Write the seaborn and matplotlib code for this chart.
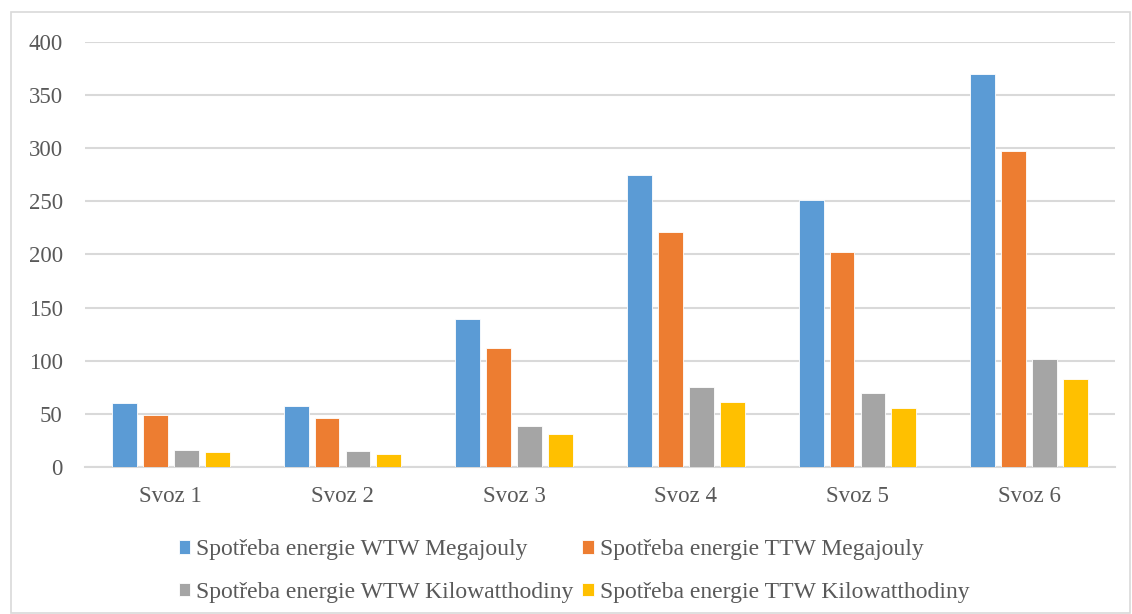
import numpy as np
import pandas as pd
import matplotlib
matplotlib.use("Agg")
import matplotlib.pyplot as plt
import seaborn as sns
from matplotlib.patches import Rectangle

categories = ["Svoz 1", "Svoz 2", "Svoz 3", "Svoz 4", "Svoz 5", "Svoz 6"]
series_names = [
    "Spotřeba energie WTW Megajouly",
    "Spotřeba energie TTW Megajouly",
    "Spotřeba energie WTW Kilowatthodiny",
    "Spotřeba energie TTW Kilowatthodiny",
]
wtw_mj = [60.6, 57.8, 139, 275, 250.7, 369.3]
ttw_mj = [48.9, 46.5, 111.7, 220.6, 201.8, 297.1]
wtw_kwh = [16.3, 15.4, 38.3, 75.3, 69.4, 101.4]
ttw_kwh = [13.8, 12.6, 30.8, 61.5, 55.2, 82.5]
yticks = [0, 50, 100, 150, 200, 250, 300, 350, 400]

colors = ["#5B9BD5", "#ED7D31", "#A5A5A5", "#FFC000"]

rows = []
for name, vals in zip(series_names, [wtw_mj, ttw_mj, wtw_kwh, ttw_kwh]):
    for c, v in zip(categories, vals):
        rows.append({"cat": c, "series": name, "value": v})
df = pd.DataFrame(rows)

sns.set_style("white")
plt.rcParams["font.family"] = ["Liberation Serif", "DejaVu Serif"]

fig = plt.figure(figsize=(11.32, 6.14), dpi=100)
ax = fig.add_axes([85 / 1132, 1 - 467 / 614, 1030 / 1132, (467 - 41.7) / 614])

sns.barplot(data=df, x="cat", y="value", hue="series", hue_order=series_names,
            order=categories, palette=colors, saturation=1, width=0.72, gap=0.2,
            edgecolor="white", linewidth=0.6, ax=ax, legend=True, zorder=3)

ax.set_ylim(0, 400)
ax.set_xlim(-0.5, 5.5)
ax.set_yticks(yticks)
ax.set_yticklabels([str(t) for t in yticks])
ax.grid(axis="y", color="#d9d9d9", linewidth=1.5, zorder=0)
ax.set_axisbelow(True)
for s in ["top", "right", "left"]:
    ax.spines[s].set_visible(False)
ax.spines["bottom"].set_color("#d9d9d9")
ax.spines["bottom"].set_linewidth(1.5)
ax.tick_params(axis="both", length=0, labelsize=16.5, labelcolor="#595959")
ax.tick_params(axis="y", pad=16)
ax.tick_params(axis="x", pad=13.5)
ax.set_xlabel("")
ax.set_ylabel("")

handles, labels = ax.get_legend_handles_labels()
ax.get_legend().remove()
order = [0, 2, 1, 3]
fig.legend([handles[i] for i in order], [labels[i] for i in order],
           loc="center", bbox_to_anchor=(574 / 1132, 1 - 571 / 614),
           ncol=2, frameon=False, fontsize=17, labelcolor="#595959",
           handlelength=0.5, handleheight=0.5, handletextpad=0.25,
           columnspacing=0.35, labelspacing=0.9, borderpad=0)

fig.patches.append(Rectangle((11 / 1132, 1 - 613 / 614), 1119 / 1132, 601 / 614,
                             transform=fig.transFigure, fill=False,
                             edgecolor="#d9d9d9", linewidth=1.2))

fig.savefig("out.png", dpi=100)
